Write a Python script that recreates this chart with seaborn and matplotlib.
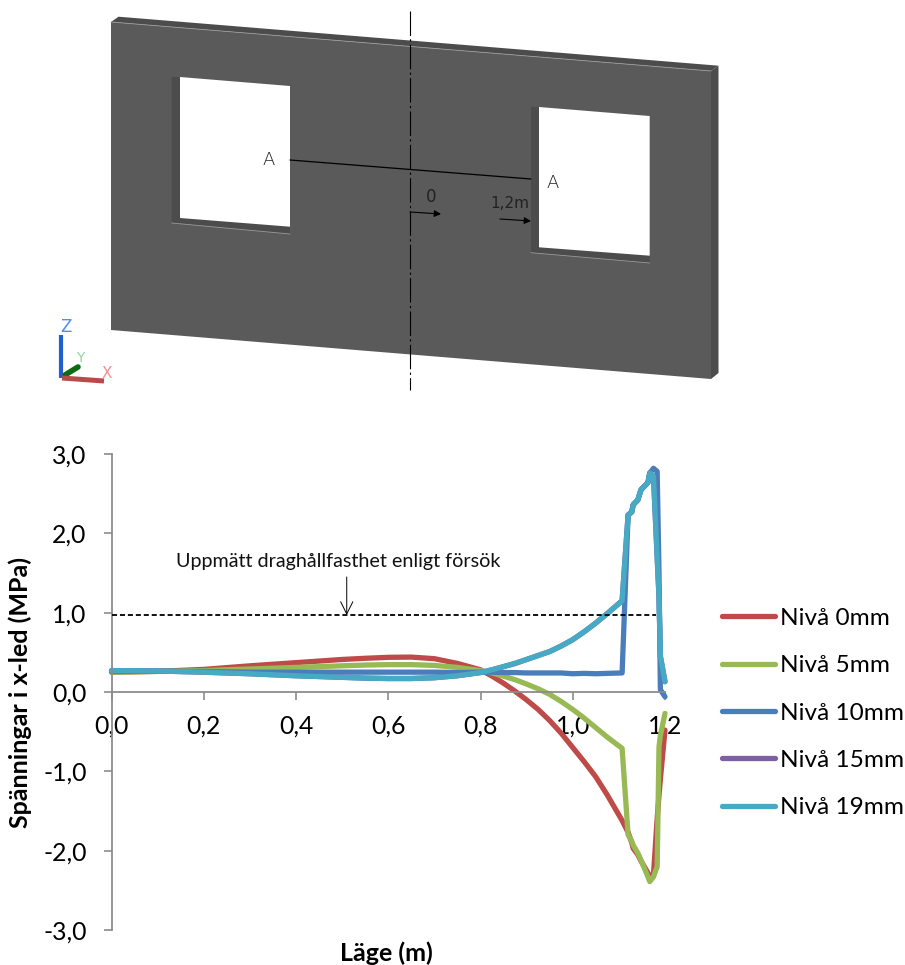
import numpy as np
import pandas as pd
import seaborn as sns
import matplotlib.pyplot as plt
from matplotlib.patches import Polygon
from matplotlib.lines import Line2D

# DATA

lage = [0.0, 0.1, 0.2, 0.3, 0.4, 0.45, 0.5, 0.55, 0.6, 0.65, 0.7, 0.75, 0.8, 0.825, 0.85, 0.875,
        0.9, 0.925, 0.95, 0.975, 1.0, 1.025, 1.05, 1.075,
        1.107, 1.12, 1.128, 1.131, 1.141, 1.148, 1.163, 1.167, 1.175, 1.183, 1.187, 1.19, 1.2]

niva_0 = [0.25, 0.26, 0.285, 0.33, 0.37, 0.39, 0.41, 0.425, 0.437, 0.44, 0.42, 0.36, 0.28, 0.20, 0.11, 0.01,
          -0.10, -0.22, -0.36, -0.52, -0.70, -0.88, -1.07, -1.30,
          -1.62, -1.77, -1.90, -1.97, -2.05, -2.13, -2.28, -2.33, -2.30, -1.60, -1.30, -1.10, -0.48]
niva_5 = [0.25, 0.26, 0.27, 0.29, 0.31, 0.32, 0.33, 0.34, 0.345, 0.345, 0.335, 0.31, 0.27, 0.24, 0.20, 0.155,
          0.10, 0.04, -0.03, -0.12, -0.22, -0.33, -0.45, -0.57,
          -0.71, -1.80, -1.88, -1.93, -2.03, -2.12, -2.33, -2.39, -2.33, -2.20, -0.69, -0.55, -0.27]
niva_10 = [0.26, 0.26, 0.26, 0.25, 0.25, 0.25, 0.25, 0.25, 0.25, 0.25, 0.25, 0.245, 0.25, 0.25, 0.245, 0.245,
           0.24, 0.24, 0.24, 0.24, 0.23, 0.235, 0.23, 0.235,
           0.24, 2.23, 2.27, 2.36, 2.42, 2.55, 2.64, 2.76, 2.82, 2.78, 1.50, 0.03, -0.06]
niva_15 = [0.27, 0.265, 0.25, 0.23, 0.205, 0.195, 0.185, 0.175, 0.17, 0.17, 0.18, 0.205, 0.245, 0.28, 0.32, 0.36,
           0.41, 0.46, 0.51, 0.58, 0.66, 0.76, 0.87, 0.99,
           1.15, 2.23, 2.27, 2.36, 2.42, 2.55, 2.64, 2.76, 2.72, 1.70, 1.20, 0.45, 0.13]
niva_19 = [0.27, 0.265, 0.25, 0.23, 0.205, 0.195, 0.185, 0.175, 0.17, 0.17, 0.18, 0.205, 0.245, 0.28, 0.32, 0.36,
           0.41, 0.46, 0.51, 0.58, 0.66, 0.76, 0.87, 0.99,
           1.15, 2.23, 2.27, 2.36, 2.42, 2.55, 2.64, 2.76, 2.72, 1.70, 1.20, 0.45, 0.13]

serier = ['Nivå 0mm', 'Nivå 5mm', 'Nivå 10mm', 'Nivå 15mm', 'Nivå 19mm']
farger = ['#BE4B48', '#98B954', '#4A7EBB', '#7D60A0', '#46AAC5']

x_ticks = [0.0, 0.2, 0.4, 0.6, 0.8, 1.0, 1.2]
x_labels = ['0,0', '0,2', '0,4', '0,6', '0,8', '1,0', '1,2']
y_ticks = [-3, -2, -1, 0, 1, 2, 3]
y_labels = ['-3,0', '-2,0', '-1,0', '0,0', '1,0', '2,0', '3,0']

draghallfasthet = 0.97

df = pd.DataFrame({'x': lage * 5,
                   'y': niva_0 + niva_5 + niva_10 + niva_15 + niva_19,
                   'serie': np.repeat(serier, len(lage))})

# FIGURE

sns.set_theme(style='white')
plt.rcParams['font.family'] = ['Lato', 'DejaVu Sans']

W, H = 905, 965
fig = plt.figure(figsize=(W / 100, H / 100), dpi=100)

# WALL DRAWING (pixel coordinates)

cad = fig.add_axes([0, 0, 1, 1])
cad.set_xlim(0, W)
cad.set_ylim(H, 0)
cad.axis('off')

vagg = '#5A5A5A'
kant = '#4C4C4C'

cad.add_patch(Polygon([(111, 22), (118.5, 16.7), (718.5, 65.7), (711, 71)], fc=kant, ec='none'))
cad.add_patch(Polygon([(711, 71), (718.5, 65.7), (718.5, 373), (711, 379)], fc=kant, ec='none'))
cad.add_patch(Polygon([(111, 22), (711, 71), (711, 379), (111, 330)], fc=vagg, ec='none'))
cad.plot([111, 711], [22, 71], c='#9A9A9A', lw=0.6)

# window openings: reveal, then white hole
cad.add_patch(Polygon([(171.7, 76.7), (290, 86), (290, 234), (171.7, 223)], fc=kant, ec='none'))
cad.add_patch(Polygon([(180, 77), (290, 86), (290, 226.7), (180, 218)], fc='white', ec='none'))
cad.add_patch(Polygon([(531, 106.7), (649.7, 116), (649.7, 263), (531, 252.7)], fc=kant, ec='none'))
cad.add_patch(Polygon([(539, 107), (649.7, 116), (649.7, 255.7), (539, 247.3)], fc='white', ec='none'))
cad.plot([171.7, 290], [223, 234], c='#9A9A9A', lw=0.6)
cad.plot([531, 649.7], [252.7, 263], c='#9A9A9A', lw=0.6)

# center line and section line
cad.plot([410, 410], [11, 390], c='black', lw=0.8, dashes=(22, 3, 2, 3))
cad.plot([290, 531], [160, 179], c='black', lw=0.9)
cad.text(269, 160, 'A', ha='center', va='center', fontsize=13, color='#222222', family='DejaVu Sans', fontweight='light')
cad.text(553, 183, 'A', ha='center', va='center', fontsize=13, color='#222222', family='DejaVu Sans', fontweight='light')
cad.text(431, 197, '0', ha='center', va='center', fontsize=12, color='#222222', family='DejaVu Sans')
cad.text(510, 203, '1,2m', ha='center', va='center', fontsize=11, color='#222222', family='DejaVu Sans')
cad.annotate('', xy=(441, 214), xytext=(410, 212), arrowprops=dict(arrowstyle='-|>', color='black', lw=0.8, mutation_scale=10, shrinkA=0, shrinkB=0))
cad.annotate('', xy=(531, 221), xytext=(500, 219), arrowprops=dict(arrowstyle='-|>', color='black', lw=0.8, mutation_scale=10, shrinkA=0, shrinkB=0))

# UCS icon
cad.plot([61, 61], [335, 378], c='#1F5FD0', lw=3, solid_capstyle='butt')
cad.plot([65, 78], [375, 367], c='#0E6B12', lw=4)
cad.plot([62, 104], [378, 381], c='#B84A4A', lw=3.6, solid_capstyle='butt')
cad.text(66, 327, 'Z', ha='center', va='center', fontsize=12, color='#4F8FF0', family='DejaVu Sans')
cad.text(80, 358, 'Y', ha='center', va='center', fontsize=10, color='#8FD89A', family='DejaVu Sans')
cad.text(107, 373, 'X', ha='center', va='center', fontsize=11, color='#F09090', family='DejaVu Sans')

# STRESS CHART

x0, x1 = 111.5, 665
y_top, y_bot = 454, 930
ax = fig.add_axes([x0 / W, 1 - y_bot / H, (x1 - x0) / W, (y_bot - y_top) / H])
ax.patch.set_alpha(0)

sns.lineplot(data=df, x='x', y='y', hue='serie', hue_order=serier, palette=farger,
             sort=False, estimator=None, linewidth=3.8, ax=ax, legend=False, clip_on=False)

ax.plot([0, 1.18], [draghallfasthet, draghallfasthet], c='black', lw=1.3, dashes=(2.8, 1.6), zorder=5)
ax.text(0.492, 1.64, 'Uppmätt draghållfasthet enligt försök', ha='center', va='center', fontsize=14.2, color='#111111')
ax.annotate('', xy=(0.51, draghallfasthet), xytext=(0.51, 1.45),
            arrowprops=dict(arrowstyle='->', color='black', lw=0.7, mutation_scale=22, shrinkA=0, shrinkB=0))

ax.set_xlim(0, 1.2)
ax.set_ylim(-3, 3)
ax.set_xticks(x_ticks)
ax.set_xticklabels(x_labels)
ax.set_yticks(y_ticks)
ax.set_yticklabels(y_labels)

for s in ['top', 'right']:
    ax.spines[s].set_visible(False)
ax.spines['bottom'].set_position(('data', 0))
ax.spines['bottom'].set_color('#8C8C8C')
ax.spines['left'].set_color('#8C8C8C')
ax.spines['bottom'].set_linewidth(1.3)
ax.spines['left'].set_linewidth(1.3)

ax.tick_params(axis='x', bottom=True, length=6, width=1.2, color='#8C8C8C', labelsize=17.8, pad=10, labelcolor='black')
ax.tick_params(axis='y', left=True, length=6, width=1.2, color='#8C8C8C', labelsize=17.8, pad=12, labelcolor='black')

ax.set_xlabel('Läge (m)', fontsize=18, fontweight='bold', color='black')
ax.xaxis.set_label_coords((386 - x0) / (x1 - x0), (y_bot - 953) / (y_bot - y_top))
ax.xaxis.label.set_va('center')
ax.set_ylabel('Spänningar i x-led (MPa)', fontsize=18, fontweight='bold', color='black')
ax.yaxis.set_label_coords((20 - x0) / (x1 - x0), (y_bot - 692) / (y_bot - y_top))
ax.yaxis.label.set_va('center')

# LEGEND

handles = [Line2D([0], [0], color=c, lw=3.8) for c in farger]
fig.legend(handles, serier, loc='center left', bbox_to_anchor=(722 / W, 1 - 713 / H), frameon=False,
           fontsize=17.6, handlelength=2.17, handletextpad=0.2, labelspacing=1.07, borderpad=0,
           borderaxespad=0, labelcolor='black')

fig.savefig('out.png', dpi=100)
